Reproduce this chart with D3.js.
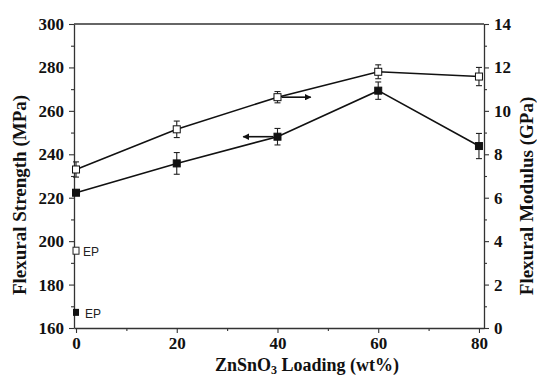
<!DOCTYPE html>
<html>
<head>
  <meta charset="utf-8">
  <style>
    body { margin: 0; background: white; }
    .tick text { font-family: "Liberation Serif", "Times New Roman", serif; font-weight: bold; font-size: 17px; fill: #111; }
    .axis-title { font-family: "Liberation Serif", "Times New Roman", serif; font-weight: bold; fill: #111; }
    .ep { font-family: "Liberation Sans", Arial, sans-serif; font-size: 12px; fill: #222; }
  </style>
</head>
<body>
  <svg id="chart"></svg>
  <script src="https://cdn.jsdelivr.net/npm/d3@7"></script>
  <script>
    // data
    var loading = [0, 20, 40, 60, 80];
    var strength = [222.3, 235.8, 248.1, 269.3, 243.8];      // MPa, filled squares, left axis
    var strengthErr = [1.2, 5.0, 3.8, 4.0, 5.8];
    var modulus = [7.3, 9.15, 10.63, 11.8, 11.58];          // GPa, open squares, right axis
    var modulusErr = [0.35, 0.38, 0.26, 0.32, 0.42];
    var epStrength = 167.2;  // neat epoxy
    var epModulus = 3.56;
    var xTicks = [0, 20, 40, 60, 80];
    var leftTicks = [160, 180, 200, 220, 240, 260, 280, 300];
    var rightTicks = [0, 2, 4, 6, 8, 10, 12, 14];

    var width = 537, height = 378;
    var pad = { top: 24, left: 74, bottom: 50, right: 53 };

    var svg = d3.select("#chart")
      .attr("width", width)
      .attr("height", height);

    var x = d3.scaleLinear()
      .domain([-0.4, 81])
      .range([pad.left, width - pad.right]);
    var yL = d3.scaleLinear()
      .domain([160, 300])
      .range([height - pad.bottom, pad.top]);
    var yR = d3.scaleLinear()
      .domain([0, 14])
      .range([height - pad.bottom, pad.top]);

    var axisColor = "#333";

    // minor ticks first
    svg.append("g")
      .attr("transform", "translate(0," + yL.range()[0] + ")")
      .call(d3.axisBottom(x).tickValues([10, 30, 50, 70]).tickSize(3).tickFormat(""))
      .call(g => g.select(".domain").remove());
    svg.append("g")
      .attr("transform", "translate(" + pad.left + ",0)")
      .call(d3.axisLeft(yL).tickValues([170, 190, 210, 230, 250, 270, 290]).tickSize(3).tickFormat(""))
      .call(g => g.select(".domain").remove());
    svg.append("g")
      .attr("transform", "translate(" + (width - pad.right) + ",0)")
      .call(d3.axisRight(yR).tickValues(d3.range(1, 14, 2)).tickSize(3).tickFormat(""))
      .call(g => g.select(".domain").remove());

    // main axes
    svg.append("g")
      .attr("transform", "translate(0," + yL.range()[0] + ")")
      .call(d3.axisBottom(x).tickValues(xTicks).tickSize(5).tickPadding(4).tickSizeOuter(0));
    svg.append("g")
      .attr("transform", "translate(" + pad.left + ",0)")
      .call(d3.axisLeft(yL).tickValues(leftTicks).tickSize(5).tickPadding(5).tickSizeOuter(0));
    svg.append("g")
      .attr("transform", "translate(" + (width - pad.right) + ",0)")
      .call(d3.axisRight(yR).tickValues(rightTicks).tickSize(5).tickPadding(5).tickSizeOuter(0));

    // top frame line
    svg.append("line")
      .attr("x1", pad.left).attr("x2", width - pad.right)
      .attr("y1", pad.top).attr("y2", pad.top)
      .attr("stroke", axisColor).attr("stroke-width", 1.3);

    svg.selectAll(".domain").attr("stroke", axisColor).attr("stroke-width", 1.3);
    svg.selectAll(".tick line").attr("stroke", axisColor).attr("stroke-width", 1.1);

    // series
    function drawSeries(vals, errs, yScale, filled) {
      var pts = loading.map((d, i) => ({ x: d, y: vals[i], e: errs[i] }));
      var g = svg.append("g");
      g.append("path")
        .datum(pts)
        .attr("fill", "none")
        .attr("stroke", "#111")
        .attr("stroke-width", 1.6)
        .attr("d", d3.line().x(d => x(d.x)).y(d => yScale(d.y)));
      var eb = g.selectAll(".eb").data(pts).join("g").attr("stroke", "#222").attr("stroke-width", 1.1);
      eb.append("line")
        .attr("x1", d => x(d.x)).attr("x2", d => x(d.x))
        .attr("y1", d => yScale(d.y - d.e)).attr("y2", d => yScale(d.y + d.e));
      eb.append("line")
        .attr("x1", d => x(d.x) - 3).attr("x2", d => x(d.x) + 3)
        .attr("y1", d => yScale(d.y - d.e)).attr("y2", d => yScale(d.y - d.e));
      eb.append("line")
        .attr("x1", d => x(d.x) - 3).attr("x2", d => x(d.x) + 3)
        .attr("y1", d => yScale(d.y + d.e)).attr("y2", d => yScale(d.y + d.e));
      g.selectAll("rect").data(pts).join("rect")
        .attr("x", d => x(d.x) - 3.5).attr("y", d => yScale(d.y) - 3.5)
        .attr("width", 7).attr("height", 7)
        .attr("fill", filled ? "#111" : "white")
        .attr("stroke", "#111").attr("stroke-width", 1);
    }
    drawSeries(strength, strengthErr, yL, true);
    drawSeries(modulus, modulusErr, yR, false);

    // EP points
    svg.append("rect")
      .attr("x", x(0) - 3).attr("y", yR(epModulus) - 3.5)
      .attr("width", 6).attr("height", 7)
      .attr("fill", "white").attr("stroke", "#222");
    svg.append("rect")
      .attr("x", x(0) - 3).attr("y", yL(epStrength) - 3.5)
      .attr("width", 6).attr("height", 7)
      .attr("fill", "#111");
    svg.append("text").attr("class", "ep")
      .attr("x", x(0) + 7).attr("y", yR(epModulus) + 5).text("EP");
    svg.append("text").attr("class", "ep")
      .attr("x", x(0) + 9).attr("y", yL(epStrength) + 6).text("EP");

    // arrows pointing to the matching axis
    var defs = svg.append("defs");
    defs.append("marker")
      .attr("id", "arrow")
      .attr("viewBox", "0 0 10 10")
      .attr("refX", 9).attr("refY", 5)
      .attr("markerWidth", 6).attr("markerHeight", 4)
      .attr("markerUnits", "strokeWidth")
      .attr("orient", "auto")
      .append("path").attr("d", "M0,0L10,5L0,10z").attr("fill", "#111");
    svg.append("line")
      .attr("x1", x(40) + 4).attr("x2", x(46.6))
      .attr("y1", yR(modulus[2])).attr("y2", yR(modulus[2]))
      .attr("stroke", "#111").attr("stroke-width", 1.6)
      .attr("marker-end", "url(#arrow)");
    svg.append("line")
      .attr("x1", x(40) - 4).attr("x2", x(33.2))
      .attr("y1", yL(strength[2])).attr("y2", yL(strength[2]))
      .attr("stroke", "#111").attr("stroke-width", 1.6)
      .attr("marker-end", "url(#arrow)");

    // axis titles
    svg.append("text").attr("class", "axis-title")
      .attr("font-size", "19px")
      .attr("transform", "translate(26,195) rotate(-90)")
      .attr("text-anchor", "middle")
      .text("Flexural Strength (MPa)");
    svg.append("text").attr("class", "axis-title")
      .attr("font-size", "19px")
      .attr("transform", "translate(533,196) rotate(-90)")
      .attr("text-anchor", "middle")
      .text("Flexural Modulus (GPa)");
    var xt = svg.append("text").attr("class", "axis-title")
      .attr("font-size", "18px")
      .attr("x", 307).attr("y", 371)
      .attr("text-anchor", "middle");
    xt.append("tspan").text("ZnSnO");
    xt.append("tspan").attr("font-size", "12px").attr("dy", 3).text("3");
    xt.append("tspan").attr("dy", -3).text(" Loading (wt%)");
  </script>
</body>
</html>
